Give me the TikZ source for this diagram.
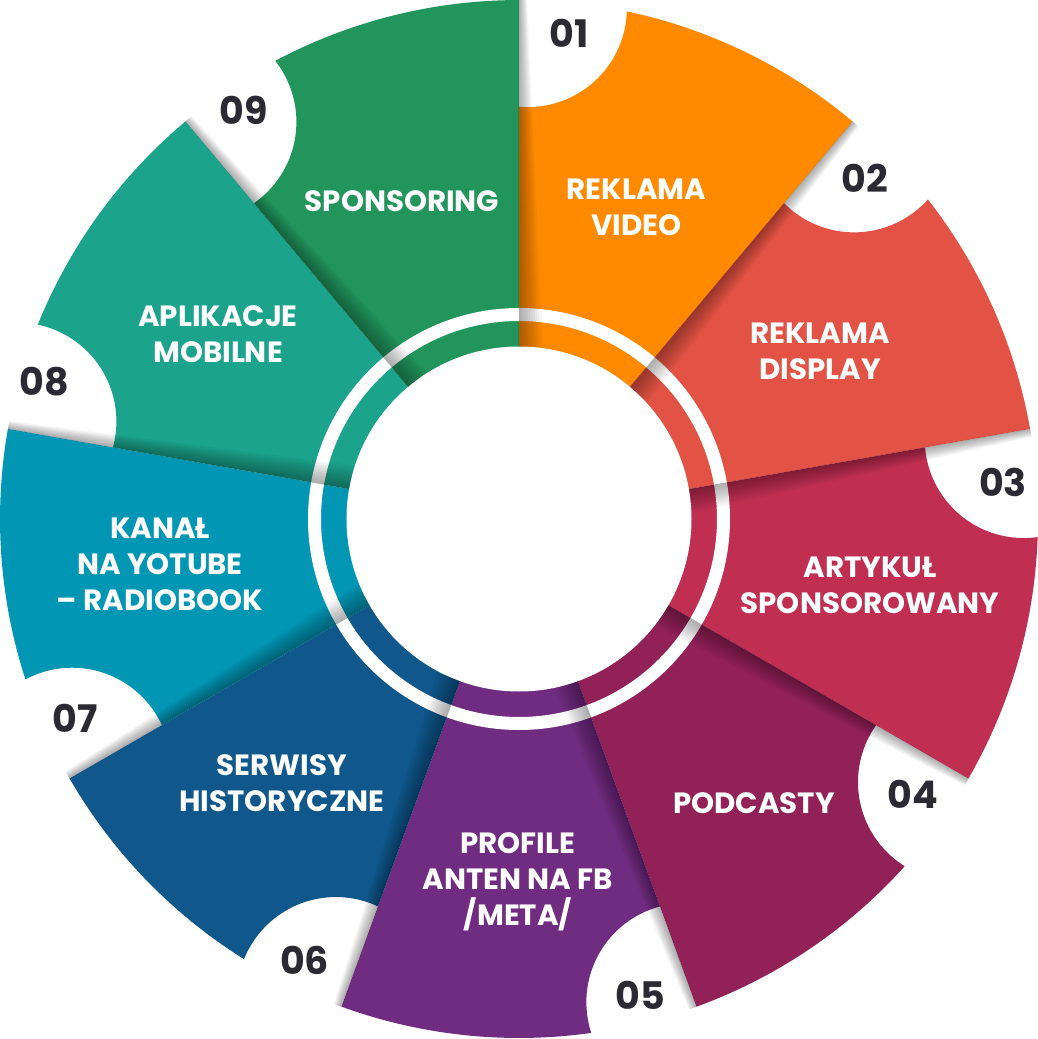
\documentclass[tikz,border=0pt]{standalone}
\usepackage{fontspec}
\setmainfont{Poppins}
\definecolor{c1}{HTML}{FF8A00}
\definecolor{c2}{HTML}{E35345}
\definecolor{c3}{HTML}{C02F52}
\definecolor{c4}{HTML}{922158}
\definecolor{c5}{HTML}{702C80}
\definecolor{c6}{HTML}{10578B}
\definecolor{c7}{HTML}{0196B4}
\definecolor{c8}{HTML}{1BA38B}
\definecolor{c9}{HTML}{22955D}
\definecolor{numc}{HTML}{2B2A33}
\begin{document}
\begin{tikzpicture}[x=1pt,y=1pt,
  lbl/.style={text=white, font=\bfseries\fontsize{29.3}{36}\selectfont, align=center, inner sep=0pt},
  num/.style={text=numc, font=\bfseries\fontsize{38}{40}\selectfont, inner sep=0pt}]
\useasboundingbox (-519,-520) rectangle (519,519);
\fill[white] (-519,-520) rectangle (519,519);
% segments
\foreach \k/\col in {1/c1,2/c2,3/c3,4/c4,5/c5,6/c6,7/c7,8/c8,9/c9} {
  \pgfmathsetmacro\ang{90-40*(\k-1)}
  \begin{scope}[rotate=\ang]
    \fill[fill=\col] (0,0) -- (412.3,0)
      arc[start angle=174.83, end angle=268.11, radius=99pt]
      arc[start angle=-12, end angle=-40, radius=519pt] -- cycle;
  \end{scope}
}
% ring and inner circle
\fill[white, even odd rule] (0,0) circle[radius=211pt] (0,0) circle[radius=198pt];
\fill[white] (0,0) circle[radius=172.5pt];
% shadows
\begin{scope}[even odd rule]
  \clip (0,0) circle[radius=519pt] (0,0) circle[radius=172.5pt];
  \foreach \b in {90,50,...,-230} {
    \begin{scope}[rotate=\b]
      \foreach \i in {1,...,10} {
        \fill[black, opacity=0.035] (172,0) -- (520,0) -- (520,{-8*\i/10}) -- (172,{-24*\i/10}) -- cycle;
      }
    \end{scope}
  }
\end{scope}
% labels
\node[lbl] (l1) at (117.5,311.5) {REKLAMA\\VIDEO};
\node[lbl] (l2) at (301,168) {REKLAMA\\DISPLAY};
\node[lbl] (l3) at (351,-66) {ARTYKUŁ\\SPONSOROWANY};
\node[lbl] (l4) at (235,-284) {PODCASTY};
\node[lbl] (l5) at (-1,-363) {PROFILE\\ANTEN NA FB\\/META/};
\node[lbl] (l6) at (-237,-264) {SERWISY\\HISTORYCZNE};
\node[lbl] (l7) at (-359,-45) {KANAŁ\\NA YOTUBE\\– RADIOBOOK};
\node[lbl] (l8) at (-301,185) {APLIKACJE\\MOBILNE};
\node[lbl] (l9) at (-117,318) {SPONSORING};
% numbers
\node[num] (n1) at (50,486) {01};
\node[num] (n2) at (346,341) {02};
\node[num] (n3) at (484,37) {03};
\node[num] (n4) at (394,-275) {04};
\node[num] (n5) at (121,-476) {05};
\node[num] (n6) at (-214.5,-441) {06};
\node[num] (n7) at (-444,-199) {07};
\node[num] (n8) at (-475,137) {08};
\node[num] (n9) at (-275,409) {09};
\end{tikzpicture}
\end{document}
